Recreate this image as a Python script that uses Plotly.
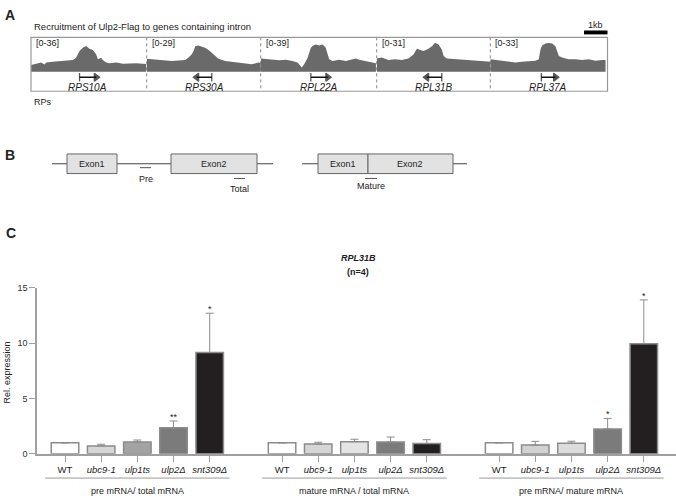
import plotly.graph_objects as go

# ---------------- data ----------------
# Panel A: ChIP tracks (x in kb from panel left, y in track data units)
track_names = ["RPS10A", "RPS30A", "RPL22A", "RPL31B", "RPL37A"]
track_max = [36, 29, 39, 31, 33]
track_dir = ["right", "left", "right", "left", "right"]
gene_start = [2.11, 2.18, 2.18, 2.18, 2.22]   # left end of gene (kb)
gene_end = [2.83, 2.83, 2.91, 2.83, 2.83]     # right end of gene (kb)

t1_x = [0.0, 0.22, 0.44, 0.59, 0.66, 0.95, 1.24, 1.53, 1.82, 1.96, 2.11, 2.25, 2.40, 2.54, 2.69,
        2.83, 2.91, 3.05, 3.12, 3.27, 3.41, 3.70, 3.99, 4.28, 4.57, 4.86, 5.01]
t1_y = [6.9, 7.9, 9.6, 7.5, 9.6, 10.3, 11.0, 11.3, 12.3, 14.7, 21.6, 25.0, 26.8, 24.0, 22.6,
        18.2, 13.0, 14.7, 12.3, 9.6, 8.9, 9.6, 8.2, 8.6, 8.9, 8.2, 7.9]
t2_x = [0.0, 0.22, 0.51, 0.80, 1.09, 1.38, 1.67, 1.82, 1.96, 2.04, 2.11, 2.25, 2.40, 2.54, 2.69,
        2.83, 2.98, 3.12, 3.41, 3.70, 3.99, 4.28, 4.57, 4.86, 5.01]
t2_y = [11.0, 10.5, 9.9, 9.4, 9.1, 9.4, 9.9, 11.9, 14.6, 17.4, 21.5, 22.1, 21.0, 20.1, 18.2,
        16.0, 13.8, 11.0, 9.1, 8.3, 7.7, 7.2, 6.3, 7.7, 7.2]
t3_x = [0.0, 0.22, 0.51, 0.80, 1.09, 1.38, 1.60, 1.70, 1.79, 1.89, 2.04, 2.18, 2.28, 2.40, 2.54,
        2.69, 2.83, 2.91, 2.98, 3.12, 3.41, 3.70, 3.99, 4.14, 4.28, 4.57, 4.86, 5.01]
t3_y = [14.8, 14.1, 13.4, 13.0, 13.4, 12.2, 10.4, 6.7, 4.8, 8.5, 15.9, 27.1, 29.7, 30.8, 29.7,
        30.8, 27.1, 19.7, 14.1, 12.2, 13.4, 12.2, 13.4, 14.8, 13.4, 12.2, 10.4, 9.6]
t4_x = [0.0, 0.22, 0.51, 0.80, 1.09, 1.38, 1.60, 1.75, 1.89, 2.04, 2.25, 2.40, 2.54, 2.69, 2.83,
        2.91, 3.05, 3.41, 3.70, 3.99, 4.28, 4.57, 5.01]
t4_y = [11.8, 12.7, 10.6, 11.2, 10.6, 11.8, 15.6, 20.7, 19.5, 18.6, 20.7, 23.0, 26.0, 24.5, 20.1,
        14.2, 11.8, 11.2, 10.6, 10.6, 10.0, 9.7, 8.9]
t5_x = [0.0, 0.22, 0.51, 0.80, 1.09, 1.38, 1.67, 1.96, 2.11, 2.18, 2.25, 2.40, 2.54, 2.69, 2.83,
        2.91, 2.98, 3.12, 3.41, 3.70, 3.99, 4.28, 4.57, 4.86, 5.01]
t5_y = [11.9, 11.3, 10.4, 9.4, 8.8, 9.4, 9.7, 10.4, 11.9, 21.4, 25.1, 27.0, 27.6, 27.0, 24.5,
        18.2, 15.1, 13.5, 11.9, 11.9, 11.3, 11.9, 10.4, 11.3, 11.3]
tracks_x = [t1_x, t2_x, t3_x, t4_x, t5_x]
tracks_y = [t1_y, t2_y, t3_y, t4_y, t5_y]

# Panel C: bars
strains = ["WT", "ubc9-1", "ulp1ts", "ulp2Δ", "snt309Δ"]
strain_labels = ["WT", "<i>ubc9-1</i>", "<i>ulp1ts</i>", "<i>ulp2Δ</i>", "<i>snt309Δ</i>"]
groups = ["pre mRNA/ total mRNA", "mature mRNA / total mRNA", "pre mRNA/ mature mRNA"]
pre_total = [1.0, 0.72, 1.08, 2.35, 9.15]
pre_total_err = [0, 0.15, 0.17, 0.62, 3.55]
mature_total = [1.0, 0.88, 1.10, 1.08, 0.93]
mature_total_err = [0, 0.17, 0.22, 0.44, 0.35]
pre_mature = [1.0, 0.80, 0.96, 2.25, 9.95]
pre_mature_err = [0, 0.33, 0.18, 0.95, 3.95]
signif_pre_total = ["", "", "", "**", "*"]
signif_mature_total = ["", "", "", "", ""]
signif_pre_mature = ["", "", "", "*", "*"]
y_ticks = [0, 5, 10, 15]

# ---------------- helpers ----------------
W, H = 676, 501
FONT = "Liberation Sans, Arial, sans-serif"


def px(x):
    return x / W


def py(y):
    return 1 - y / H


fig = go.Figure()
shapes = []
annotations = []


def ann(x, y, text, size=9, xanchor="center", yanchor="middle", **kw):
    d = dict(x=x, y=y, text=text, showarrow=False, xanchor=xanchor, yanchor=yanchor,
             font=dict(size=size, color="#222", family=FONT))
    d.setdefault("xref", "paper")
    d.setdefault("yref", "paper")
    d.update(kw)
    annotations.append(d)


# ---------------- Panel A ----------------
panel_edges = [31, 146.7, 260.7, 376.7, 490.3, 607.5]
trk_top, trk_zero, trk_bot = 33, 68, 88
KB = 23.0  # px per kb
layout_axes = {}
for i in range(5):
    n = i + 2
    left, right = panel_edges[i], panel_edges[i + 1]
    M = track_max[i]
    ymin = -(trk_bot - trk_zero) / (trk_zero - trk_top) * M
    layout_axes[f"xaxis{n}"] = dict(domain=[px(left), px(right)], range=[0, (right - left) / KB],
                                    visible=False, anchor=f"y{n}", fixedrange=True)
    layout_axes[f"yaxis{n}"] = dict(domain=[py(trk_bot), py(trk_top)], range=[ymin, M],
                                    visible=False, anchor=f"x{n}", fixedrange=True)
    fig.add_trace(go.Scatter(x=tracks_x[i], y=tracks_y[i], mode="lines", fill="tozeroy",
                             fillcolor="#6a6a6a", line=dict(width=0, color="#6a6a6a"),
                             xaxis=f"x{n}", yaxis=f"y{n}", hoverinfo="skip", showlegend=False))
    # gene arrow
    ya = -(73.7 - trk_zero) / (trk_zero - trk_top) * M
    if track_dir[i] == "right":
        gx = [gene_start[i], gene_end[i]]
        syms = ["line-ns", "triangle-right"]
    else:
        gx = [gene_end[i], gene_start[i]]
        syms = ["line-ns", "triangle-left"]
    fig.add_trace(go.Scatter(x=gx, y=[ya, ya], mode="lines+markers",
                             line=dict(color="#111", width=1.5),
                             marker=dict(symbol=syms, size=[6, 7], color="#111",
                                         line=dict(color="#111", width=1.3)),
                             cliponaxis=False, xaxis=f"x{n}", yaxis=f"y{n}",
                             hoverinfo="skip", showlegend=False))
    yn = -(83.7 - trk_zero) / (trk_zero - trk_top) * M
    ann((gene_start[i] + gene_end[i]) / 2, yn, f"<i>{track_names[i]}</i>", size=10,
        xref=f"x{n}", yref=f"y{n}")
    ann(px(left + 3), py(39), f"[0-{M}]", xanchor="left")
    if 0 < i:
        shapes.append(dict(type="line", xref="paper", yref="paper", x0=px(left), x1=px(left),
                           y0=py(trk_top), y1=py(trk_bot), line=dict(color="#666", width=0.8, dash="dot")))

shapes.append(dict(type="rect", xref="paper", yref="paper", x0=px(31), x1=px(607.5),
                   y0=py(trk_bot), y1=py(trk_top), line=dict(color="#999", width=1.2)))
# scale bar 1kb
shapes.append(dict(type="rect", xref="paper", yref="paper", x0=px(584), x1=px(607.5),
                   y0=py(30), y1=py(26), fillcolor="#000", line=dict(width=0)))
ann(px(595.5), py(20), "1kb")
ann(px(32), py(22), "Recruitment of Ulp2-Flag to genes containing intron", size=9.5, xanchor="left")
ann(px(32), py(99), "RPs", xanchor="left")

# panel letters
for letter, (lx, ly) in zip(["A", "B", "C"], [(10, 10), (10, 153), (11, 233)]):
    ann(px(lx), py(ly), f"<b>{letter}</b>", size=14)

# ---------------- Panel B ----------------
def pline(x0, y0, x1, y1, color="#444", w=1):
    shapes.append(dict(type="line", xref="paper", yref="paper", x0=px(x0), x1=px(x1),
                       y0=py(y0), y1=py(y1), line=dict(color=color, width=w)))


def prect(x0, y0, x1, y1):
    shapes.append(dict(type="rect", xref="paper", yref="paper", x0=px(x0), x1=px(x1),
                       y0=py(y1), y1=py(y0), fillcolor="#e2e2e2", line=dict(color="#666", width=1)))


pline(52, 162, 273, 162)
prect(67, 152, 117, 172)
prect(171, 152, 257, 172)
ann(px(92), py(162), "Exon1")
ann(px(214), py(162), "Exon2")
pline(140, 166, 151, 166, "#555")
ann(px(146), py(178), "Pre")
pline(234, 177, 245, 177, "#555")
ann(px(239.5), py(187.5), "Total")
pline(302, 162, 467, 162)
prect(318, 152, 368, 172)
prect(368, 152, 453, 172)
ann(px(343), py(162), "Exon1")
ann(px(410), py(162), "Exon2")
pline(365, 177, 377, 177, "#555")
ann(px(371), py(185), "Mature")

# ---------------- Panel C ----------------
bar_colors = [["#ffffff", "#d6d6d6", "#a3a3a3", "#7b7b7b", "#231f20"],
              ["#ffffff", "#d6d6d6", "#e4e4e4", "#7b7b7b", "#231f20"],
              ["#ffffff", "#d2d2d2", "#dcdcdc", "#7b7b7b", "#231f20"]]
group_vals = [pre_total, mature_total, pre_mature]
group_errs = [pre_total_err, mature_total_err, pre_mature_err]
group_sig = [signif_pre_total, signif_mature_total, signif_pre_mature]
all_pos, all_lab = [], []
for g in range(3):
    pos = [g * 6 + k for k in range(len(strains))]
    all_pos += pos
    all_lab += strain_labels
    fig.add_trace(go.Bar(x=pos, y=group_vals[g], width=0.76,
                         marker=dict(color=bar_colors[g], line=dict(color="#8c8c8c", width=1.5)),
                         error_y=dict(type="data", symmetric=False, array=group_errs[g],
                                      arrayminus=[0] * len(strains), color="#8c8c8c",
                                      thickness=1, width=4),
                         xaxis="x", yaxis="y", showlegend=False, hoverinfo="skip"))
    for k in range(len(strains)):
        if group_sig[g][k]:
            ann(pos[k], group_vals[g][k] + group_errs[g][k], group_sig[g][k], yanchor="bottom",
                xref="x", yref="y", yshift=-3)
    c = g * 6 + 2
    shapes.append(dict(type="line", xref="x", yref="paper", x0=c - 2.55, x1=c + 2.55,
                       y0=py(482.7), y1=py(482.7), line=dict(color="#999", width=1)))
    ann(c, py(495.5), groups[g], xref="x")

ann(px(358), py(258), "<b><i>RPL31B</i></b>")
ann(px(358), py(272), "<b>(n=4)</b>")
ann(px(7), py(375), "Rel. expression", textangle=-90)

fig.update_layout(
    width=W, height=H, margin=dict(l=0, r=0, t=0, b=0), autosize=False,
    paper_bgcolor="white", plot_bgcolor="white", showlegend=False,
    font=dict(family=FONT, size=9, color="#222"),
    xaxis=dict(domain=[px(37), 1], range=[-0.774, 16.89], tickvals=all_pos, ticktext=all_lab,
               showline=True, linecolor="#a0a0a0", linewidth=1.5, ticks="outside", ticklen=6,
               tickcolor="#a0a0a0", tickfont=dict(size=9.5, color="#222", family=FONT),
               showgrid=False, zeroline=False, fixedrange=True, anchor="y"),
    yaxis=dict(domain=[py(458), py(288.5)], range=[0, 15], tickvals=y_ticks,
               showline=True, linecolor="#a0a0a0", linewidth=1.5, ticks="outside", ticklen=6,
               tickcolor="#a0a0a0", tickfont=dict(size=9, color="#333", family=FONT),
               showgrid=False, zeroline=False, fixedrange=True, anchor="x"),
    shapes=shapes, annotations=annotations,
    **layout_axes,
)

fig.write_html("out.html", config={"displayModeBar": False},
               post_script="document.body.style.margin='0';document.body.style.padding='0';")
